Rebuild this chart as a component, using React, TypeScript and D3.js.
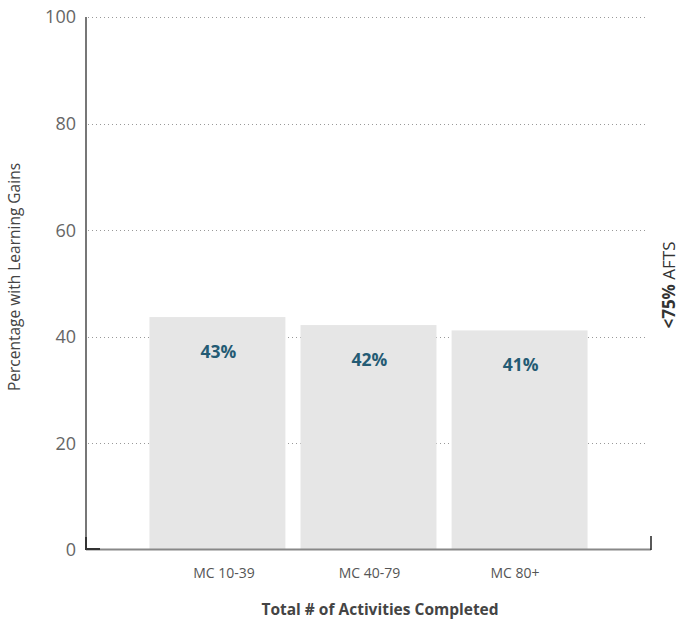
import React, { useEffect, useRef } from "react";
import * as d3 from "d3";

const categories = ["MC 10-39", "MC 40-79", "MC 80+"];
const values = [43.7, 42.2, 41.2];
const valueLabels = ["43%", "42%", "41%"];
const yTicks = [0, 20, 40, 60, 80, 100];

const W = 681;
const H = 620;
const FONT = "'Open Sans', 'Noto Sans', sans-serif";

export default function App() {
  const ref = useRef<SVGSVGElement | null>(null);

  useEffect(() => {
    const svg = d3.select(ref.current);
    svg.selectAll("*").remove();

    const left = 86, right = 651, top = 17, bottom = 550;
    const y = d3.scaleLinear().domain([0, 100]).range([bottom, top]);
    const x = d3.scaleBand<string>().domain(categories).range([left, right]).paddingInner(0.1).paddingOuter(0.42);
    const xl = d3.scalePoint<string>().domain(categories).range([224, 515]);

    // gridlines
    svg.append("g").selectAll("line").data(yTicks.filter((t) => t > 0)).join("line")
      .attr("x1", left + 2).attr("x2", right - 3)
      .attr("y1", (d) => Math.round(y(d)) + 0.5).attr("y2", (d) => Math.round(y(d)) + 0.5)
      .attr("stroke", "#999").attr("stroke-width", 1).attr("stroke-dasharray", "1,3");

    // bars
    svg.append("g").selectAll("rect").data(values).join("rect")
      .attr("x", (_d, i) => x(categories[i])!)
      .attr("width", x.bandwidth())
      .attr("y", (d) => y(d))
      .attr("height", (d) => bottom - y(d))
      .attr("fill", "#e6e6e6");

    // bar labels
    svg.append("g").selectAll("text").data(values).join("text")
      .attr("x", (_d, i) => x(categories[i])! + x.bandwidth() / 2 + 1)
      .attr("y", (d) => y(d) + 41)
      .attr("text-anchor", "middle")
      .attr("font-family", FONT).attr("font-weight", 700).attr("font-size", 17.5)
      .attr("fill", "#245b74")
      .text((_d, i) => valueLabels[i]);

    // axes lines
    svg.append("line").attr("x1", left).attr("x2", left).attr("y1", top).attr("y2", bottom - 1)
      .attr("stroke", "#777").attr("stroke-width", 2);
    svg.append("line").attr("x1", left).attr("x2", right).attr("y1", bottom - 0.5).attr("y2", bottom - 0.5)
      .attr("stroke", "#888").attr("stroke-width", 2);
    svg.append("path").attr("d", `M${left},${bottom - 13}V${bottom - 1}H${left + 14}`)
      .attr("fill", "none").attr("stroke", "#333").attr("stroke-width", 2);
    svg.append("path").attr("d", `M${right},${bottom - 14}V${bottom}`)
      .attr("fill", "none").attr("stroke", "#222").attr("stroke-width", 1.5);

    // y tick labels
    svg.append("g").selectAll("text").data(yTicks).join("text")
      .attr("x", left - 10).attr("y", (d) => y(d)).attr("dy", "0.36em")
      .attr("text-anchor", "end")
      .attr("font-family", FONT).attr("font-size", 18).attr("fill", "#666")
      .text((d) => String(d));

    // x tick labels
    svg.append("g").selectAll("text").data(categories).join("text")
      .attr("x", (d) => xl(d)!).attr("y", 578)
      .attr("text-anchor", "middle")
      .attr("font-family", FONT).attr("font-size", 14).attr("fill", "#555")
      .text((d) => d);

    // x title
    svg.append("text").attr("x", 380).attr("y", 615).attr("text-anchor", "middle")
      .attr("font-family", FONT).attr("font-weight", 700).attr("font-size", 15.5).attr("fill", "#444")
      .text("Total # of Activities Completed");

    // y title
    svg.append("text").attr("transform", `translate(20,277) rotate(-90)`).attr("text-anchor", "middle")
      .attr("font-family", FONT).attr("font-size", 15.5).attr("fill", "#444")
      .text("Percentage with Learning Gains");

    // right label
    const rl = svg.append("text").attr("transform", `translate(675,285) rotate(-90)`).attr("text-anchor", "middle")
      .attr("font-family", FONT).attr("font-size", 17).attr("fill", "#333");
    rl.append("tspan").attr("font-weight", 700).text("<75%");
    rl.append("tspan").text(" AFTS");
  }, []);

  return <svg ref={ref} width={W} height={H} style={{ position: "absolute", left: 0, top: 0 }} />;
}
